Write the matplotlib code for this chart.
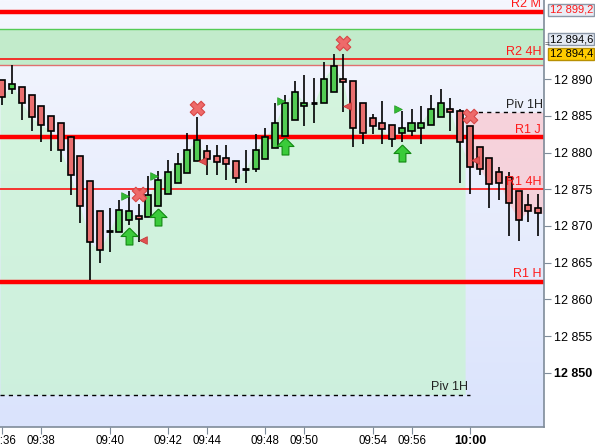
import numpy as np
import matplotlib
matplotlib.use('Agg')
from matplotlib import pyplot as plt
from matplotlib.path import Path

# candles (one per bar, index = position on the chart)
opens = [12889.9, 12888.7, 12889.0, 12887.9, 12886.4, 12885.0, 12884.0, 12882.1, 12879.5, 12876.1,
         12872.0, 12869.3, 12869.2, 12870.8, 12871.4, 12871.2, 12872.7, 12874.4, 12875.9, 12877.2,
         12878.8, 12880.2, 12879.6, 12879.2, 12878.8, 12877.8, 12877.7, 12879.1, 12880.6, 12882.3,
         12884.5, 12886.4, 12886.7, 12886.7, 12888.3, 12890.1, 12889.8, 12886.7, 12884.7, 12884.1,
         12883.7, 12882.7, 12883.0, 12883.4, 12883.8, 12884.9, 12885.9, 12885.7, 12883.6, 12880.7,
         12879.2, 12877.4, 12876.7, 12874.8, 12872.8, 12872.4]
highs = [12889.9, 12892.0, 12889.0, 12887.9, 12886.4, 12885.0, 12884.0, 12882.2, 12879.5, 12876.1,
         12872.0, 12872.5, 12873.5, 12874.7, 12873.0, 12876.8, 12877.5, 12879.0, 12880.0, 12882.7,
         12884.8, 12881.0, 12881.0, 12881.0, 12878.8, 12880.3, 12882.5, 12883.3, 12886.7, 12887.8,
         12889.8, 12890.6, 12890.2, 12892.3, 12893.5, 12893.5, 12889.8, 12886.7, 12885.2, 12887.0,
         12883.7, 12885.7, 12886.0, 12886.4, 12887.8, 12888.7, 12887.5, 12886.0, 12883.6, 12880.7,
         12879.2, 12878.0, 12877.4, 12874.8, 12874.4, 12874.3]
lows = [12886.5, 12888.0, 12884.4, 12883.0, 12881.5, 12880.2, 12878.7, 12874.2, 12870.4, 12862.6,
        12865.0, 12866.5, 12869.2, 12870.1, 12867.8, 12871.2, 12872.7, 12874.4, 12875.9, 12877.2,
        12878.8, 12876.9, 12876.9, 12876.2, 12875.8, 12875.8, 12877.4, 12879.1, 12880.6, 12882.3,
        12884.5, 12883.6, 12884.0, 12886.7, 12888.3, 12885.5, 12880.7, 12881.2, 12882.5, 12881.2,
        12880.7, 12881.5, 12882.3, 12881.2, 12883.8, 12884.9, 12883.0, 12875.9, 12874.3, 12876.9,
        12872.4, 12873.5, 12868.7, 12867.9, 12870.5, 12868.7]
closes = [12887.6, 12889.4, 12886.8, 12884.8, 12883.8, 12882.9, 12880.3, 12876.9, 12872.7, 12867.8,
          12866.7, 12869.3, 12872.2, 12872.1, 12870.9, 12874.2, 12876.2, 12877.4, 12878.4, 12880.4,
          12881.7, 12879.1, 12878.7, 12878.4, 12876.6, 12877.8, 12880.3, 12882.1, 12884.0, 12886.8,
          12888.3, 12886.8, 12886.7, 12890.1, 12891.8, 12889.6, 12883.4, 12882.7, 12883.6, 12883.2,
          12881.8, 12883.3, 12884.0, 12884.1, 12886.0, 12886.7, 12885.6, 12881.4, 12878.0, 12877.8,
          12875.7, 12875.9, 12873.1, 12870.8, 12872.1, 12871.7]

tick_idx = [0, 4, 11, 17, 21, 27, 31, 38, 42, 48]
tick_labels = ['09:36', '09:38', '09:40', '09:42', '09:44', '09:48', '09:50', '09:54', '09:56', '10:00']

# pivot / resistance levels
level_names = ['R2 M', 'R2 4H', 'R1 J', 'R1 4H', 'R1 H']
level_values = [12899.2, 12892.7, 12882.1, 12875.0, 12862.4]
level_thick = [True, False, True, False, True]
zone_low, zone_high = 12891.9, 12896.9
piv_old, piv_new = 12847.0, 12885.5
piv_switch = 48

# price boxes on the right axis
box_labels = ['12 899,2', '12 894,6', '12 894,4']

# signals: (bar index, price)
x_marks = [(14, 12874.3), (20, 12886.1), (35, 12895.0), (48, 12885.0)]
up_arrows = [(13, 12868.6), (16, 12871.2), (29, 12880.9), (41, 12880.0)]
green_flags = [(12.6, 12874.1), (15.6, 12876.8), (28.6, 12887.0), (40.6, 12886.0)]
red_flags = [(14.4, 12868.1), (20.5, 12878.8), (35.4, 12886.4), (48.5, 12879.0)]

plt.rcParams['font.family'] = ['Liberation Sans', 'DejaVu Sans']

fig = plt.figure(figsize=(5.95, 4.47), dpi=100)
ax = fig.add_axes([0, 20 / 447, 544 / 595, 427 / 447])
xmin, xmax = -0.24, 55.6
ymin, ymax = 12842.6, 12900.8
ax.set_xlim(xmin, xmax)
ax.set_ylim(ymin, ymax)

# background gradient
grad = np.linspace(0, 1, 256).reshape(-1, 1)
top = np.array([245, 247, 254]) / 255
bot = np.array([218, 227, 252]) / 255
img = top + grad[..., None] * (bot - top)
ax.imshow(img, extent=[xmin, xmax, ymin, ymax], aspect='auto', zorder=0)

# fill between close and pivot
idx = np.arange(len(closes))
cl = np.array(closes)
split = piv_switch - 0.5
xa = np.concatenate([[xmin], idx[idx < split], [split]])
ya = np.concatenate([[cl[0]], cl[idx < split], [np.interp(split, idx, cl)]])
ax.fill_between(xa, ya, piv_old, color='#C8F5D0', alpha=0.7, lw=0, zorder=1)
xb = np.concatenate([[split], idx[idx > split], [xmax]])
yb = np.concatenate([[np.interp(split, idx, cl)], cl[idx > split], [cl[-1]]])
ax.fill_between(xb, yb, piv_new, where=yb <= piv_new, color='#F8CDD5', alpha=0.85, lw=0, zorder=1)

# resistance zone
ax.axhspan(zone_low, zone_high, color='#C2EBCB', zorder=1.5, lw=0)
ax.axhline(zone_high, color='#55CC55', lw=1, zorder=2)
ax.axhline(zone_low, color='#E07070', lw=1, zorder=2)

for name, val, thick in zip(level_names, level_values, level_thick):
    ax.axhline(val, color='#FF0000', lw=3.2 if thick else 1.1, zorder=2)
    ax.text(55.3, val + 1.0, name, color='#FF1A1A', fontsize=9, ha='right', va='center', zorder=6)

# pivot lines
ax.hlines(piv_old, xmin, piv_switch, colors='black', linestyles=(0, (3, 3)), lw=1, zorder=2)
ax.text(piv_switch - 0.2, piv_old + 1.0, 'Piv 1H', fontsize=9, ha='right', va='center', color='#222222', zorder=6)
ax.hlines(piv_new, piv_switch, xmax, colors='black', linestyles=(0, (3, 3)), lw=1, zorder=2)
ax.text(55.5, piv_new + 1.0, 'Piv 1H', fontsize=9, ha='right', va='center', color='#222222', zorder=6)

# candles
o = np.array(opens)
ax.vlines(idx, lows, highs, colors='black', lw=1.2, zorder=3)
for i in idx:
    if abs(cl[i] - o[i]) < 0.15:
        ax.hlines(o[i], i - 0.35, i + 0.35, colors='black', lw=2, zorder=4)
        continue
    col = '#52CC52' if cl[i] > o[i] else '#E96F6F'
    ax.bar(i, cl[i] - o[i], bottom=o[i], width=0.62, color=col, edgecolor='black', lw=1.2, zorder=4)

# signals
arrow = Path([(0, 1), (1, 0), (0.4, 0), (0.4, -1), (-0.4, -1), (-0.4, 0), (-1, 0), (0, 1)])
ax.scatter([p[0] for p in x_marks], [p[1] for p in x_marks], marker='X', s=110,
           color='#EE6A6A', edgecolor='#D84848', lw=0.8, zorder=5)
ax.scatter([p[0] for p in up_arrows], [p[1] for p in up_arrows], marker=arrow, s=150,
           color='#3ACB3A', edgecolor='#118811', lw=0.8, zorder=5)
ax.scatter([p[0] for p in green_flags], [p[1] for p in green_flags], marker='>', s=30,
           color='#33BB33', edgecolor='#229922', lw=0.5, zorder=5)
ax.scatter([p[0] for p in red_flags], [p[1] for p in red_flags], marker='<', s=30,
           color='#E05050', edgecolor='#C03030', lw=0.5, zorder=5)

# axes
for s in ['left', 'top']:
    ax.spines[s].set_visible(False)
for s in ['right', 'bottom']:
    ax.spines[s].set_color('#7F8C9A')
    ax.spines[s].set_linewidth(1.2)
ax.yaxis.tick_right()
yt = [12850, 12855, 12860, 12865, 12870, 12875, 12880, 12885, 12890]
ax.set_yticks(yt)
ax.set_yticklabels(['12 %03d' % (v - 12000) for v in yt], fontsize=9)
ax.get_yticklabels()[0].set_fontweight('bold')
ax.set_xticks(tick_idx)
ax.set_xticklabels(tick_labels, fontsize=8.3)
ax.get_xticklabels()[-1].set_fontweight('bold')
ax.get_xticklabels()[-1].set_fontsize(9)
ax.tick_params(length=5, color='#7F8C9A', pad=2)
ax.tick_params(axis='x', pad=1)

box_y = [10, 39, 54]
box_fc = ['#E9EDF5', '#E4EAF4', '#FFCC00']
box_ec = ['#8C98A8', '#8C98A8', '#B89000']
box_tc = ['#FF1A1A', 'black', 'black']
for lab, yy, fc, ec, tc in zip(box_labels, box_y, box_fc, box_ec, box_tc):
    fig.text(593 / 595, 1 - yy / 447, lab, fontsize=8, color=tc, va='center', ha='right',
             bbox=dict(boxstyle='square,pad=0.12', fc=fc, ec=ec, lw=1))
fig.text(544.5 / 595, 1 - 45 / 447, '=', fontsize=6, color='#333333', va='center')

fig.savefig('out.png', dpi=100)
